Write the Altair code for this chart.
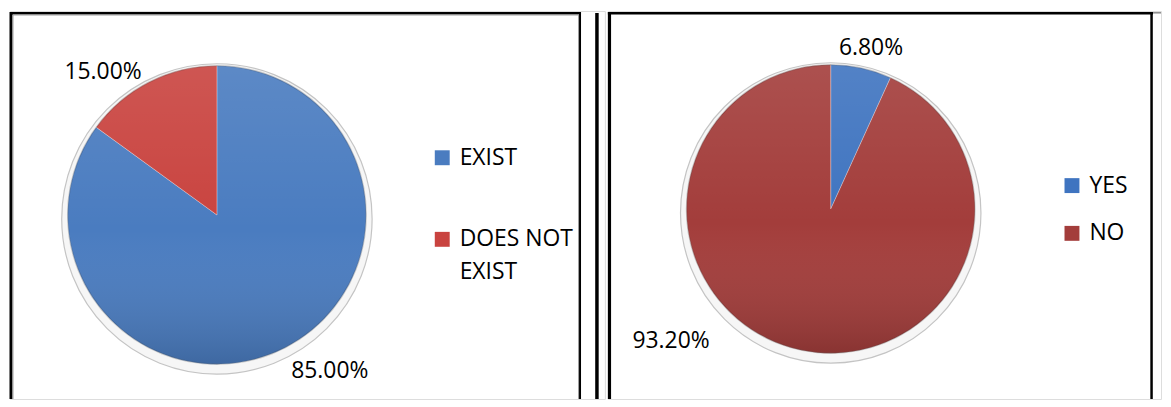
import math
import altair as alt
import pandas as pd

# ---- data ----
left_cats = ["EXIST", "DOES NOT EXIST"]
left_vals = [85.0, 15.0]
right_cats = ["YES", "NO"]
right_vals = [6.8, 93.2]

left_colors = ["#4a7cc0", "#c9433f"]
right_colors = ["#3f74c0", "#a33d3b"]

FONT = "Open Sans"
FS = 23
W1, W2, H = 598, 556, 390
one = pd.DataFrame({"k": [0]})


def vline(x, y1, y2, color="black", width=3):
    return alt.Chart(one).mark_rule(color=color, strokeWidth=width).encode(
        x=alt.value(x), y=alt.value(y1), y2=alt.value(y2))


def hline(y, x1, x2, color="black", width=3):
    return alt.Chart(one).mark_rule(color=color, strokeWidth=width).encode(
        y=alt.value(y), x=alt.value(x1), x2=alt.value(x2))


shade = alt.LinearGradient(
    gradient="linear", x1=0, y1=0, x2=0, y2=1,
    stops=[alt.GradientStop(offset=0, color="rgba(255,255,255,0.10)"),
           alt.GradientStop(offset=0.55, color="rgba(255,255,255,0)"),
           alt.GradientStop(offset=1, color="rgba(0,0,0,0.16)")])


def pie(cats, vals, colors, cx, cy, r, legend, labels):
    df = pd.DataFrame({"cat": cats, "value": vals, "order": list(range(len(cats)))})
    base = alt.Chart(df)
    halo = alt.Chart(one).mark_arc(
        theta=0, theta2=2 * math.pi, radius=r + 6, fill="#f6f6f6",
        stroke="#c4c4c4", strokeWidth=1.2
    ).encode(x=alt.value(cx), y=alt.value(cy + 4))
    arcs = base.mark_arc(radius=r, stroke="rgba(255,255,255,0.35)", strokeWidth=0.8).encode(
        theta=alt.Theta("value:Q", stack=True, scale=alt.Scale(domain=[0, 100])),
        color=alt.Color("cat:N", sort=cats,
                        scale=alt.Scale(domain=cats, range=colors),
                        legend=legend),
        order=alt.Order("order:Q"),
        x=alt.value(cx), y=alt.value(cy),
    )
    overlay = alt.Chart(one).mark_arc(
        theta=0, theta2=2 * math.pi, radius=r, fill=shade,
        stroke="rgba(0,0,0,0.18)", strokeWidth=1.5
    ).encode(x=alt.value(cx), y=alt.value(cy))
    lab = base.transform_window(
        cum="sum(value)", sort=[alt.SortField("order")], frame=[None, 0]
    ).transform_calculate(
        mid="datum.cum - datum.value / 2",
        txt="format(datum.value / 100, '.2%')",
    )
    texts = []
    for cat, (rad, align, baseline, dx, dy) in labels.items():
        texts.append(
            lab.transform_filter(alt.datum.cat == cat).mark_text(
                align=align, baseline=baseline, dx=dx, dy=dy,
                font=FONT, fontSize=FS, color="black"
            ).encode(
                theta=alt.Theta("mid:Q", scale=alt.Scale(domain=[0, 100])),
                radius=alt.value(rad),
                x=alt.value(cx), y=alt.value(cy),
                text="txt:N",
            )
        )
    return [halo, arcs, overlay] + texts


def legend(x, y, rowpad, wrap=None):
    kw = {}
    if wrap:
        kw["labelExpr"] = wrap
    return alt.Legend(
        orient="none", legendX=x, legendY=y, title=None, direction="vertical",
        symbolType="square", symbolSize=225, symbolStrokeWidth=0,
        labelFont=FONT, labelFontSize=FS, labelColor="black", labelLimit=400,
        labelOffset=6, rowPadding=rowpad, padding=0, **kw)


wrap_left = "datum.label === 'DOES NOT EXIST' ? ['DOES NOT', 'EXIST'] : datum.label"

left_layers = [
    vline(1, 1, H, width=3),
    vline(3, 4, H, color="#9a9a9a", width=1),
    hline(2.3, 0, 574, width=2.6),
    hline(4, 3, 572, color="#9a9a9a", width=1),
    vline(573, 1, H, width=2),
    vline(571.5, 4, H, color="#9a9a9a", width=1),
    vline(590, 2, H, width=3.5),
] + pie(left_cats, left_vals, left_colors, 208, 205, 150,
        legend(423, 136, 58, wrap_left),
        {"DOES NOT EXIST": (160, "right", "middle", -3, -1),
         "EXIST": (160, "left", "top", 2, 3)})

right_layers = [
    vline(1.6, 1, H, width=3.2),
    hline(2.3, 0, 548, width=2.6),
    vline(546.5, 1, H, width=2.5),
    hline(1.8, 548, W2, color="#8a8a8a", width=1.5),
] + pie(right_cats, right_vals, right_colors, 224, 199, 145,
        legend(455, 164, 24),
        {"YES": (158, "center", "alphabetic", 7, 0),
         "NO": (140, "right", "alphabetic", -92, 3)})

left = alt.layer(*left_layers).properties(width=W1, height=H)
right = alt.layer(*right_layers).properties(width=W2, height=H)

chart = alt.hconcat(left, right, spacing=0).resolve_scale(
    color="independent", theta="independent"
).properties(padding=0).configure_view(stroke=None).configure(
    style={"guide-label": {"lineHeight": 33}}
)

chart.save("out.html", embed_options={"renderer": "svg", "actions": False})
